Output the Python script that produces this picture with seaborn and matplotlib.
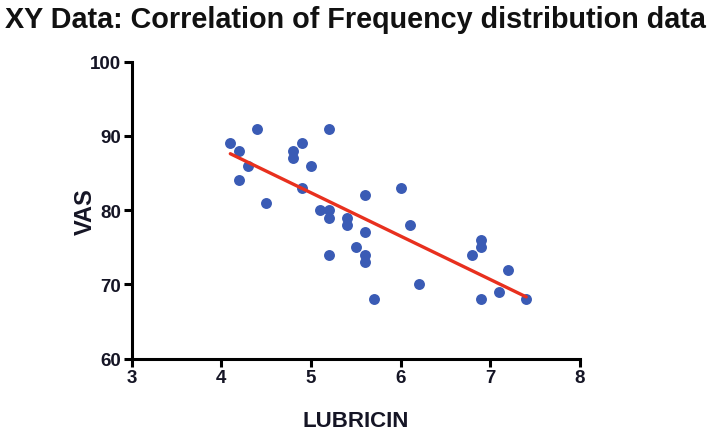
import numpy as np
import pandas as pd
import matplotlib
matplotlib.use("Agg")
import matplotlib.pyplot as plt
import seaborn as sns

# values
lubricin = [4.1, 4.2, 4.4, 4.3, 4.2, 4.5, 4.8, 4.8, 4.9, 5.2, 5.0, 4.9,
            5.6, 5.1, 5.2, 5.2, 5.4, 5.4, 5.6, 5.2, 5.5, 5.6, 5.6, 5.7,
            6.0, 6.1, 6.2, 6.9, 6.9, 6.8, 7.2, 7.1, 6.9, 7.4]
vas = [89, 88, 91, 86, 84, 81, 88, 87, 89, 91, 86, 83,
       82, 80, 80, 79, 79, 78, 77, 74, 75, 74, 73, 68,
       83, 78, 70, 76, 75, 74, 72, 69, 68, 68]

x_ticks = [3, 4, 5, 6, 7, 8]
y_ticks = [60, 70, 80, 90, 100]

df = pd.DataFrame({"LUBRICIN": lubricin, "VAS": vas})

sns.set_style("white")
plt.rcParams["font.family"] = ["Liberation Sans", "DejaVu Sans"]

fig = plt.figure(figsize=(7.13, 4.39), dpi=100)
ax = fig.add_axes([0.1847, 0.181, 0.6288, 0.676])

sns.regplot(data=df, x="LUBRICIN", y="VAS", ax=ax, ci=None, truncate=True,
            scatter_kws={"s": 62, "color": "#3A5BB5", "alpha": 1, "linewidths": 0, "zorder": 2},
            line_kws={"color": "#E8301E", "lw": 2.4, "zorder": 3})

ax.set_xlim(3, 8)
ax.set_ylim(60, 100)
ax.set_xticks(x_ticks)
ax.set_yticks(y_ticks)
sns.despine(ax=ax)
for side in ["left", "bottom"]:
    ax.spines[side].set_linewidth(2.2)
    ax.spines[side].set_color("black")
ax.tick_params(axis="both", direction="out", length=6, width=2.2, color="black",
               labelsize=13.5, pad=1.5, bottom=True, left=True)
for lbl in ax.get_xticklabels() + ax.get_yticklabels():
    lbl.set_fontweight("bold")
    lbl.set_color("#151525")

ax.set_xlabel("LUBRICIN", fontsize=16, fontweight="bold", color="#151525", va="center")
ax.set_ylabel("VAS", fontsize=17, fontweight="bold", color="#151525", va="center")
ax.xaxis.set_label_coords(0.499, -0.21)
ax.yaxis.set_label_coords(-0.104, 0.5)

fig.text(0.007, 0.955, "XY Data: Correlation of Frequency distribution data",
         fontsize=20.7, fontweight="bold", ha="left", va="center", color="#111111")

fig.savefig("out.png", dpi=100)
